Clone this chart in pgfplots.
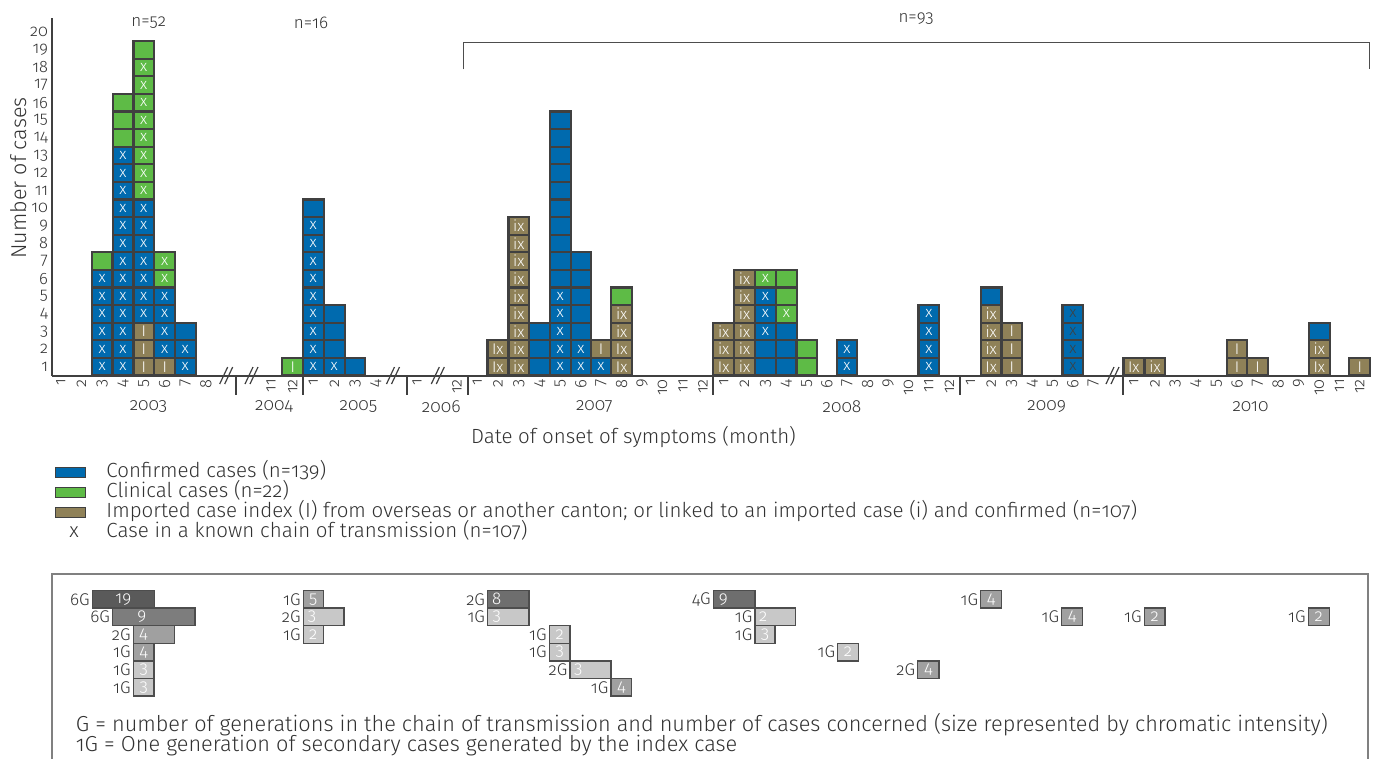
\documentclass[border=0pt]{standalone}
\usepackage{fontspec}
\setmainfont{Fira Sans Light}[Numbers=OldStyle]
\usepackage{pgfplots}
\pgfplotsset{compat=1.18}
\definecolor{cblue}{RGB}{0,106,174}
\definecolor{cgreen}{RGB}{94,187,70}
\definecolor{colive}{RGB}{143,129,88}
\definecolor{cborder}{RGB}{64,64,64}
\definecolor{ctext}{RGB}{50,50,50}
\definecolor{gA}{RGB}{90,90,90}
\definecolor{gB}{RGB}{125,125,125}
\definecolor{gC}{RGB}{110,110,110}
\definecolor{gM}{RGB}{160,160,160}
\definecolor{gL}{RGB}{200,200,200}
\definecolor{gbox}{RGB}{77,77,77}
\definecolor{gframe}{RGB}{128,128,128}
\newcommand\fs[1]{\fontsize{#1}{#1}\selectfont}
\pgfplotsset{
  cellfill/.style={ybar, bar width=20.7, bar shift=0pt, draw=none, fill=#1},
  cellgrid/.style={ybar, bar width=20.7, bar shift=0pt, fill=none, draw=cborder, line width=2.2pt},
  celltext/.style={draw=none, mark=none, point meta=explicit symbolic, nodes near coords, nodes near coords align={center},
     every node near coord/.append style={anchor=center, font=\fs{15.5}, text=#1, inner sep=0pt}},
}
% chain box: left, right, top, bottom, centre y, fill, number, number x, G label
\newcommand\cbox[9]{%
  \addplot[fill=#6, draw=gbox, line width=1.3pt] coordinates {(#1,-#3) (#2,-#3) (#2,-#4) (#1,-#4)} -- cycle;
  \node[text=white, font=\fs{17}, inner sep=0pt] at (axis cs:#8,-#5) {#7};
  \node[anchor=east, xshift=-2.5pt, text=ctext, font=\fs{17}, inner sep=0pt] at (axis cs:#1,-#5) {#9};
}
\begin{document}
\begin{tikzpicture}
\useasboundingbox (0pt,0pt) rectangle (1384pt,-758pt);
\begin{axis}[
  x=1pt, y=17.6pt,
  xmin=51.7, xmax=1370, ymin=0, ymax=20.3,
  anchor=south west, at={(51.7pt,-375.5pt)},
  clip=false,
  axis x line*=bottom, axis y line*=left,
  axis line style={draw=cborder, line width=2pt},
  major tick length=0pt, tick style={draw=none},
  ytick={0.5,1.5,...,19.5},
  yticklabels={1,2,3,4,5,6,7,8,9,10,11,12,13,14,15,16,17,18,19,20},
  xtick={60.7,81.5,102.2,123,143.8,164.7,185.3,206,
         271,292.7,313.3,334.3,355,375.7,417,457,
         477.2,497.8,518.8,539.7,560.3,581,601,621.7,642,662.5,683,703,
         723.7,744.5,765.5,786.3,806.7,826.8,847,867.7,888.2,908.5,928.8,949.3,
         970.5,991.2,1011.7,1032.3,1052.5,1072.8,1093.3,
         1133.8,1155,1175,1195.7,1216.3,1237,1257.5,1278.2,1298.7,1319.3,1339.5,1359.7},
  xticklabels={1,2,3,4,5,6,7,8,
         11,12,1,2,3,4,1,12,
         1,2,3,4,5,6,7,8,9,10,11,12,
         1,2,3,4,5,6,7,8,9,10,11,12,
         1,2,3,4,5,6,7,
         1,2,3,4,5,6,7,8,9,10,11,12},
  xticklabel style={rotate=90, anchor=east, inner sep=0pt, font=\fs{16.5}, text=ctext},
  yticklabel style={anchor=east, inner sep=0pt, font=\fs{16.5}, text=ctext},
  xticklabel shift=3.5pt, yticklabel shift=3.5pt,
  /pgf/number format/assume math mode=true,
  ylabel={Number of cases}, xlabel={Date of onset of symptoms (month)},
  every axis y label/.style={at={(axis description cs:-0.0253,0.553)}, rotate=90, anchor=center, font=\fs{21.5}, text=ctext},
  every axis x label/.style={at={(axis description cs:0.4413,-0.1721)}, anchor=center, font=\fs{20.5}, text=ctext},
  legend style={at={(axis description cs:0.0025,-0.2421)}, anchor=north west, draw=none, fill=none,
     font=\fs{20.5}, text=ctext, inner sep=0pt, outer sep=0pt, row sep=0pt,
     /tikz/every odd column/.append style={column sep=20.5pt},
     nodes={inner sep=0pt, text height=15pt, text depth=5.3pt}},
  legend cell align=left,
]
% legend
\addlegendimage{legend image code/.code={\draw[fill=cblue, draw=cborder, line width=1pt] (0pt,-5pt) rectangle (30pt,5pt);}}
\addlegendentry{Confirmed cases (n=139)}
\addlegendimage{legend image code/.code={\draw[fill=cgreen, draw=cborder, line width=1pt] (0pt,-5pt) rectangle (30pt,5pt);}}
\addlegendentry{Clinical cases (n=22)}
\addlegendimage{legend image code/.code={\draw[fill=colive, draw=cborder, line width=1pt] (0pt,-5pt) rectangle (30pt,5pt);}}
\addlegendentry{Imported case index (I) from overseas or another canton; or linked to an imported case (i) and confirmed (n=107)}
\addlegendimage{legend image code/.code={\node[text=ctext, inner sep=0pt, font=\fs{20.5}] at (14pt,0pt) {x};}}
\addlegendentry{Case in a known chain of transmission (n=107)}

% fills, painted from the highest segment down
\addplot[cellfill=cgreen] coordinates {(102.2,7)(123,16)(143.8,19)(164.7,7)(292.7,1)(621.7,5)(765.5,6)(786.3,6)(806.7,2)};
\addplot[cellfill=colive] coordinates {(601,2)};
\addplot[cellfill=cblue] coordinates {(102.2,6)(123,13)(143.8,10)(164.7,5)(185.3,3)(313.3,10)(334.3,4)(355,1)
  (539.7,3)(560.3,15)(581,7)(601,1)(765.5,5)(786.3,3)(847,2)(928.8,4)(991.2,5)(1072.8,4)(1319.3,3)};
\addplot[cellfill=colive] coordinates {(143.8,3)(164.7,1)(497.8,2)(518.8,9)(621.7,4)(723.7,3)(744.5,6)
  (991.2,4)(1011.7,3)(1133.8,1)(1155,1)(1237,2)(1257.5,1)(1319.3,2)(1359.7,1)};
% cell outlines (one per case)
\addplot[cellgrid] coordinates {
 (102.2,1)(102.2,2)(102.2,3)(102.2,4)(102.2,5)(102.2,6)(102.2,7)
 (123,1)(123,2)(123,3)(123,4)(123,5)(123,6)(123,7)(123,8)(123,9)(123,10)(123,11)(123,12)(123,13)(123,14)(123,15)(123,16)
 (143.8,1)(143.8,2)(143.8,3)(143.8,4)(143.8,5)(143.8,6)(143.8,7)(143.8,8)(143.8,9)(143.8,10)(143.8,11)(143.8,12)(143.8,13)(143.8,14)(143.8,15)(143.8,16)(143.8,17)(143.8,18)(143.8,19)
 (164.7,1)(164.7,2)(164.7,3)(164.7,4)(164.7,5)(164.7,6)(164.7,7)
 (185.3,1)(185.3,2)(185.3,3)
 (292.7,1)
 (313.3,1)(313.3,2)(313.3,3)(313.3,4)(313.3,5)(313.3,6)(313.3,7)(313.3,8)(313.3,9)(313.3,10)
 (334.3,1)(334.3,2)(334.3,3)(334.3,4)
 (355,1)
 (497.8,1)(497.8,2)
 (518.8,1)(518.8,2)(518.8,3)(518.8,4)(518.8,5)(518.8,6)(518.8,7)(518.8,8)(518.8,9)
 (539.7,1)(539.7,2)(539.7,3)
 (560.3,1)(560.3,2)(560.3,3)(560.3,4)(560.3,5)(560.3,6)(560.3,7)(560.3,8)(560.3,9)(560.3,10)(560.3,11)(560.3,12)(560.3,13)(560.3,14)(560.3,15)
 (581,1)(581,2)(581,3)(581,4)(581,5)(581,6)(581,7)
 (601,1)(601,2)
 (621.7,1)(621.7,2)(621.7,3)(621.7,4)(621.7,5)
 (723.7,1)(723.7,2)(723.7,3)
 (744.5,1)(744.5,2)(744.5,3)(744.5,4)(744.5,5)(744.5,6)
 (765.5,1)(765.5,2)(765.5,3)(765.5,4)(765.5,5)(765.5,6)
 (786.3,1)(786.3,2)(786.3,3)(786.3,4)(786.3,5)(786.3,6)
 (806.7,1)(806.7,2)
 (847,1)(847,2)
 (928.8,1)(928.8,2)(928.8,3)(928.8,4)
 (991.2,1)(991.2,2)(991.2,3)(991.2,4)(991.2,5)
 (1011.7,1)(1011.7,2)(1011.7,3)
 (1072.8,1)(1072.8,2)(1072.8,3)(1072.8,4)
 (1133.8,1)
 (1155,1)
 (1237,1)(1237,2)
 (1257.5,1)
 (1319.3,1)(1319.3,2)(1319.3,3)
 (1359.7,1)};
% cell marks
\addplot[celltext=white] coordinates {
 (102.2,0.5)[x](102.2,1.5)[x](102.2,2.5)[x](102.2,3.5)[x](102.2,4.5)[x](102.2,5.5)[x]
 (123,0.5)[x](123,1.5)[x](123,2.5)[x](123,3.5)[x](123,4.5)[x](123,5.5)[x](123,6.5)[x](123,7.5)[x](123,8.5)[x](123,9.5)[x](123,10.5)[x](123,11.5)[x](123,12.5)[x]
 (143.8,0.5)[I](143.8,1.5)[I](143.8,2.5)[I](143.8,3.5)[x](143.8,4.5)[x](143.8,5.5)[x](143.8,6.5)[x](143.8,7.5)[x](143.8,8.5)[x](143.8,9.5)[x]
 (143.8,10.5)[x](143.8,11.5)[x](143.8,12.5)[x](143.8,13.5)[x](143.8,14.5)[x](143.8,15.5)[x](143.8,16.5)[x](143.8,17.5)[x]
 (164.7,0.5)[I](164.7,1.5)[x](164.7,2.5)[x](164.7,3.5)[x](164.7,4.5)[x](164.7,5.5)[x](164.7,6.5)[x]
 (185.3,0.5)[x](185.3,1.5)[x]
 (292.7,0.5)[I]
 (313.3,0.5)[x](313.3,1.5)[x](313.3,2.5)[x](313.3,3.5)[x](313.3,4.5)[x](313.3,5.5)[x](313.3,6.5)[x](313.3,7.5)[x](313.3,8.5)[x]
 (334.3,0.5)[x]
 (497.8,0.5)[Ix](497.8,1.5)[Ix]
 (518.8,0.5)[ix](518.8,1.5)[ix](518.8,2.5)[ix](518.8,3.5)[ix](518.8,4.5)[ix](518.8,5.5)[ix](518.8,6.5)[ix](518.8,7.5)[ix](518.8,8.5)[ix]
 (560.3,0.5)[x](560.3,1.5)[x](560.3,2.5)[x](560.3,3.5)[x](560.3,4.5)[x]
 (581,0.5)[x](581,1.5)[x]
 (601,0.5)[x](601,1.5)[I]
 (621.7,0.5)[Ix](621.7,1.5)[Ix](621.7,2.5)[ix](621.7,3.5)[ix]
 (723.7,0.5)[Ix](723.7,1.5)[ix](723.7,2.5)[ix]
 (744.5,0.5)[ix](744.5,1.5)[ix](744.5,2.5)[ix](744.5,3.5)[ix](744.5,4.5)[ix](744.5,5.5)[ix]
 (765.5,2.5)[x](765.5,3.5)[x](765.5,4.5)[x](765.5,5.5)[x]
 (786.3,3.5)[x]
 (847,0.5)[x](847,1.5)[x]
 (928.8,0.5)[x](928.8,1.5)[x](928.8,2.5)[x](928.8,3.5)[x]
 (991.2,0.5)[Ix](991.2,1.5)[ix](991.2,2.5)[ix](991.2,3.5)[ix]
 (1011.7,0.5)[I](1011.7,1.5)[I](1011.7,2.5)[I]
 (1133.8,0.5)[Ix]
 (1155,0.5)[ix]
 (1237,0.5)[I](1237,1.5)[I]
 (1257.5,0.5)[I]
 (1319.3,0.5)[Ix](1319.3,1.5)[ix]
 (1359.7,0.5)[I]};
\addplot[celltext=cborder] coordinates {(1072.8,0.5)[x](1072.8,1.5)[x](1072.8,2.5)[x](1072.8,3.5)[x]};

% year dividers
\pgfplotsinvokeforeach{235.5,303.3,406.5,467.5,713.3,960,1123.3}{
  \draw[cborder, line width=2pt] (axis cs:#1,0) -- (axis cs:#1,-1.108);
}
% axis breaks
\draw[cborder, line width=1.2pt] (axis cs:219.7,-0.483) -- (axis cs:227.7,0.483);
\draw[cborder, line width=1.2pt] (axis cs:224.7,-0.483) -- (axis cs:232.7,0.483);
\draw[cborder, line width=1.2pt] (axis cs:245,-0.483) -- (axis cs:253,0.483);
\draw[cborder, line width=1.2pt] (axis cs:250,-0.483) -- (axis cs:258,0.483);
\draw[cborder, line width=1.2pt] (axis cs:386.5,-0.483) -- (axis cs:394.5,0.483);
\draw[cborder, line width=1.2pt] (axis cs:391.5,-0.483) -- (axis cs:399.5,0.483);
\draw[cborder, line width=1.2pt] (axis cs:431.3,-0.483) -- (axis cs:439.3,0.483);
\draw[cborder, line width=1.2pt] (axis cs:436.3,-0.483) -- (axis cs:444.3,0.483);
\draw[cborder, line width=1.2pt] (axis cs:1106,-0.483) -- (axis cs:1114,0.483);
\draw[cborder, line width=1.2pt] (axis cs:1111,-0.483) -- (axis cs:1119,0.483);
% year labels
\node[font=\fs{17.5}, text=ctext] at (axis cs:148.5,-1.773) {2003};
\node[font=\fs{17.5}, text=ctext] at (axis cs:274,-1.773) {2004};
\node[font=\fs{17.5}, text=ctext] at (axis cs:358.5,-1.773) {2005};
\node[font=\fs{17.5}, text=ctext] at (axis cs:441.3,-1.773) {2006};
\node[font=\fs{17.5}, text=ctext] at (axis cs:594.3,-1.773) {2007};
\node[font=\fs{17.5}, text=ctext] at (axis cs:842,-1.773) {2008};
\node[font=\fs{17.5}, text=ctext] at (axis cs:1046.7,-1.773) {2009};
\node[font=\fs{17.5}, text=ctext] at (axis cs:1250.5,-1.773) {2010};
% n labels and bracket
\node[font=\fs{17}, text=ctext] at (axis cs:148.8,20.03) {n=52};
\node[font=\fs{17}, text=ctext] at (axis cs:311,20.05) {n=16};
\node[font=\fs{17}, text=ctext] at (axis cs:916,20.26) {n=93};
\draw[color=gbox, line width=1.5pt] (axis cs:463.3,17.4) -- (axis cs:463.3,18.91) -- (axis cs:1369.3,18.91) -- (axis cs:1369.3,17.4);
\end{axis}

% chains of transmission
\begin{axis}[
  x=1pt, y=1pt, xmin=0, xmax=1384, ymin=-800, ymax=-560,
  anchor=south west, at={(0pt,-800pt)}, hide axis, clip=false,
]
\draw[color=gframe, line width=2pt] (axis cs:51.7,-800) -- (axis cs:51.7,-574) -- (axis cs:1368,-574) -- (axis cs:1368,-800);
% 2003
\cbox{92.3}{154.3}{590.5}{608.1}{599.3}{gA}{19}{123.3}{6G}
\cbox{112.7}{195}{608.1}{625.7}{616.9}{gB}{9}{141.7}{6G}
\cbox{133.3}{174.3}{625.7}{643.3}{634.5}{gM}{4}{143.5}{2G}
\cbox{133.3}{154}{643.3}{660.9}{652.1}{gM}{4}{143.7}{1G}
\cbox{133.3}{154}{660.9}{678.5}{669.7}{gL}{3}{143.7}{1G}
\cbox{133.3}{154}{678.5}{696.1}{687.3}{gL}{3}{143.7}{1G}
% 2005
\cbox{303.3}{323.3}{590.5}{608.1}{599.3}{gM}{5}{313.3}{1G}
\cbox{303.3}{344}{608.1}{625.7}{616.9}{gL}{3}{312}{2G}
\cbox{303.3}{323.3}{625.7}{643.3}{634.5}{gL}{2}{313.3}{1G}
% 2007
\cbox{487.7}{529}{590.5}{608.1}{599.3}{gC}{8}{496.7}{2G}
\cbox{487.7}{529}{608.1}{625.7}{616.9}{gL}{3}{496.7}{1G}
\cbox{549.3}{570}{625.7}{643.3}{634.5}{gL}{2}{559.7}{1G}
\cbox{549.3}{570}{643.3}{660.9}{652.1}{gL}{3}{559.7}{1G}
\cbox{570}{611}{660.9}{678.5}{669.7}{gL}{3}{578.3}{2G}
\cbox{611}{631.7}{678.5}{696.1}{687.3}{gM}{4}{621.3}{1G}
% 2008
\cbox{713.3}{755}{590.5}{608.1}{599.3}{gC}{9}{723.3}{4G}
\cbox{755}{795.7}{608.1}{625.7}{616.9}{gL}{2}{763.3}{1G}
\cbox{755}{775}{625.7}{643.3}{634.5}{gL}{3}{765}{1G}
\cbox{837.7}{858.3}{643.3}{660.9}{652.1}{gL}{2}{848}{1G}
\cbox{917.7}{939}{660.9}{678.5}{669.7}{gM}{4}{928.3}{2G}
% 2009--2010
\cbox{980.7}{1001.7}{590.5}{608.1}{599.3}{gM}{4}{991.2}{1G}
\cbox{1061.7}{1082.7}{608.1}{625.7}{616.9}{gM}{4}{1072.2}{1G}
\cbox{1144.3}{1165}{608.1}{625.7}{616.9}{gM}{2}{1154.7}{1G}
\cbox{1308.3}{1329.3}{608.1}{625.7}{616.9}{gM}{2}{1318.8}{1G}
\node[anchor=west, font=\fs{21.7}, text=ctext, inner sep=0pt] at (axis cs:75.7,-725) {G = number of generations in the chain of transmission and number of cases concerned (size represented by chromatic intensity)};
\node[anchor=west, font=\fs{21.7}, text=ctext, inner sep=0pt] at (axis cs:75.7,-745.5) {1G = One generation of secondary cases generated by the index case};
\end{axis}
\end{tikzpicture}
\end{document}
